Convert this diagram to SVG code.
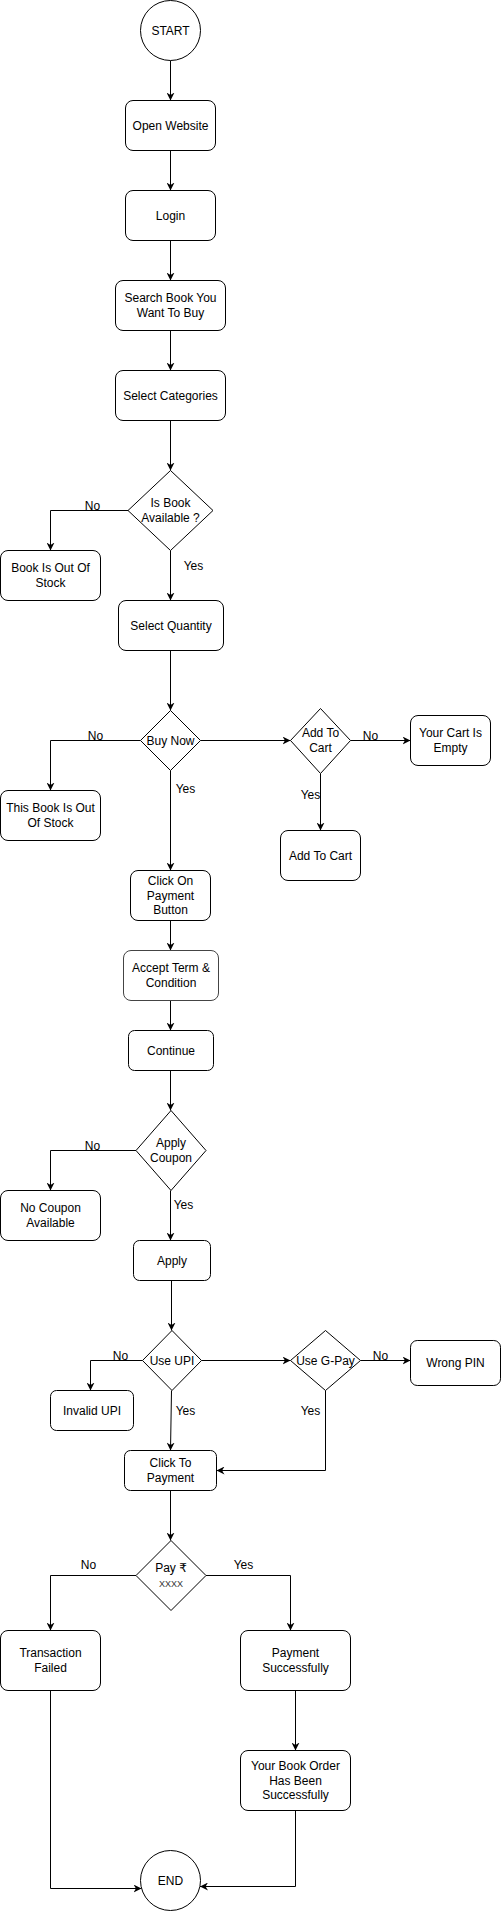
<svg xmlns="http://www.w3.org/2000/svg" width="501" height="1911" viewBox="0 0 501 1911">
<style>
.n{fill:#fff;stroke:#000;stroke-width:1}
.t{font-family:"Liberation Sans",Arial,"DejaVu Sans",sans-serif;font-size:12px;fill:#000;text-anchor:middle}
.s{font-size:9px;fill:#333}
.c{fill:none;stroke:#000;stroke-width:1;marker-end:url(#ah)}
.l{font-family:"Liberation Sans",Arial,sans-serif;font-size:12px;fill:#000;text-anchor:middle}
</style>
<defs>
<marker id="ah" viewBox="0 0 10 10" refX="10" refY="5" markerWidth="8" markerHeight="8" markerUnits="userSpaceOnUse" orient="auto">
<path d="M0,0 L10,5 L0,10 L3,5 z" fill="#000"/>
</marker>
</defs>
<rect width="501" height="1911" fill="#fff"/>
<g transform="translate(0.5,0.5)">
<g id="connectors">
<path class="c" d="M170,60 V100"/>
<path class="c" d="M170,150 V190"/>
<path class="c" d="M170,240 V280"/>
<path class="c" d="M170,330 V370"/>
<path class="c" d="M170,420 V470"/>
<path class="c" d="M127.5,510 H50 V550"/>
<path class="c" d="M170,550 V600"/>
<path class="c" d="M170,650 V710"/>
<path class="c" d="M140,740 H50 V790"/>
<path class="c" d="M200,740 H290"/>
<path class="c" d="M350,740 H410"/>
<path class="c" d="M320,773 V830"/>
<path class="c" d="M170,770 V870"/>
<path class="c" d="M170,920 V950"/>
<path class="c" d="M170,1000 V1030"/>
<path class="c" d="M170,1070 V1110"/>
<path class="c" d="M135.5,1150 H50 V1190"/>
<path class="c" d="M170,1190 V1240"/>
<path class="c" d="M171,1280 V1330"/>
<path class="c" d="M142,1360 H90 V1390"/>
<path class="c" d="M201,1360 H290"/>
<path class="c" d="M360,1360 H410"/>
<path class="c" d="M171,1390 L170,1450"/>
<path class="c" d="M325,1390 V1470 H216"/>
<path class="c" d="M170,1490 V1540"/>
<path class="c" d="M135.5,1575 H50 V1630"/>
<path class="c" d="M205.5,1575 H290 V1630"/>
<path class="c" d="M295,1690 V1750"/>
<path class="c" d="M50,1690 V1888 H141"/>
<path class="c" d="M295,1810 V1886 H199.5"/>
<text class="l" x="92" y="509">No</text>
<text class="l" x="193" y="569">Yes</text>
<text class="l" x="95" y="739">No</text>
<text class="l" x="370" y="739">No</text>
<text class="l" x="310" y="798">Yes</text>
<text class="l" x="185" y="792">Yes</text>
<text class="l" x="92" y="1149">No</text>
<text class="l" x="183" y="1208">Yes</text>
<text class="l" x="120" y="1359">No</text>
<text class="l" x="380" y="1359">No</text>
<text class="l" x="185" y="1414">Yes</text>
<text class="l" x="310" y="1414">Yes</text>
<text class="l" x="88" y="1568">No</text>
<text class="l" x="243" y="1568">Yes</text>
</g>
<g id="start"><circle class="n" cx="170" cy="30" r="30"/><text class="t" x="170" y="34">START</text></g>
<g id="open"><rect class="n" x="125" y="100" width="90" height="50" rx="7.5"/><text class="t" x="170" y="129">Open Website</text></g>
<g id="login"><rect class="n" x="125" y="190" width="90" height="50" rx="7.5"/><text class="t" x="170" y="219">Login</text></g>
<g id="search"><rect class="n" x="115" y="280" width="110" height="50" rx="7.5"/><text class="t" x="170" y="301.8">Search Book You</text><text class="t" x="170" y="316.2">Want To Buy</text></g>
<g id="categories"><rect class="n" x="115" y="370" width="110" height="50" rx="7.5"/><text class="t" x="170" y="399">Select Categories</text></g>
<g id="available"><path class="n" d="M170,470 L212.5,510 L170,550 L127.5,510 Z"/><text class="t" x="170" y="506.8">Is Book</text><text class="t" x="170" y="521.2">Available ?</text></g>
<g id="outofstock1"><rect class="n" x="0" y="550" width="100" height="50" rx="7.5"/><text class="t" x="50" y="571.8">Book Is Out Of</text><text class="t" x="50" y="586.2">Stock</text></g>
<g id="quantity"><rect class="n" x="118" y="600" width="105" height="50" rx="7.5"/><text class="t" x="170.5" y="629">Select Quantity</text></g>
<g id="buynow"><path class="n" d="M170,710 L200,740 L170,770 L140,740 Z"/><text class="t" x="170" y="744">Buy Now</text></g>
<g id="addcartq"><path class="n" d="M320,708 L350,740 L320,773 L290,740 Z"/><text class="t" x="320" y="736.8">Add To</text><text class="t" x="320" y="751.2">Cart</text></g>
<g id="cartempty"><rect class="n" x="410" y="715" width="80" height="50" rx="7.5"/><text class="t" x="450" y="736.8">Your Cart Is</text><text class="t" x="450" y="751.2">Empty</text></g>
<g id="outofstock2"><rect class="n" x="0" y="790" width="100" height="50" rx="7.5"/><text class="t" x="50" y="811.8">This Book Is Out</text><text class="t" x="50" y="826.2">Of Stock</text></g>
<g id="addtocart"><rect class="n" x="280" y="830" width="80" height="50" rx="7.5"/><text class="t" x="320" y="859">Add To Cart</text></g>
<g id="clickpayment"><rect class="n" x="130" y="870" width="80" height="50" rx="7.5"/><text class="t" x="170" y="884.6">Click On</text><text class="t" x="170" y="899">Payment</text><text class="t" x="170" y="913.4">Button</text></g>
<g id="accept"><rect class="n" x="123" y="950" width="95" height="50" rx="7.5" style="stroke:#444"/><text class="t" x="170.5" y="971.8">Accept Term &amp;</text><text class="t" x="170.5" y="986.2">Condition</text></g>
<g id="continue"><rect class="n" x="128" y="1030" width="85" height="40" rx="6"/><text class="t" x="170.5" y="1054">Continue</text></g>
<g id="coupon"><path class="n" d="M170.5,1110 L205.5,1150 L170.5,1190 L135.5,1150 Z"/><text class="t" x="170.5" y="1146.8">Apply</text><text class="t" x="170.5" y="1161.2">Coupon</text></g>
<g id="nocoupon"><rect class="n" x="0" y="1190" width="100" height="50" rx="7.5"/><text class="t" x="50" y="1211.8">No Coupon</text><text class="t" x="50" y="1226.2">Available</text></g>
<g id="apply"><rect class="n" x="133" y="1240" width="77" height="40" rx="6"/><text class="t" x="171.5" y="1264">Apply</text></g>
<g id="useupi"><path class="n" d="M171.5,1330 L201,1360 L171.5,1390 L142,1360 Z"/><text class="t" x="171.5" y="1364">Use UPI</text></g>
<g id="invalidupi"><rect class="n" x="50" y="1390" width="83" height="40" rx="6"/><text class="t" x="91.5" y="1414">Invalid UPI</text></g>
<g id="usegpay"><path class="n" d="M325,1330 L360,1360 L325,1390 L290,1360 Z"/><text class="t" x="325" y="1364">Use G-Pay</text></g>
<g id="wrongpin"><rect class="n" x="410" y="1340" width="90" height="45" rx="6.75"/><text class="t" x="455" y="1366.5">Wrong PIN</text></g>
<g id="clicktopay"><rect class="n" x="124" y="1450" width="92" height="40" rx="6"/><text class="t" x="170" y="1466.8">Click To</text><text class="t" x="170" y="1481.2">Payment</text></g>
<g id="pay"><path class="n" d="M170.5,1540 L205.5,1575 L170.5,1610 L135.5,1575 Z"/><text class="t" x="170.5" y="1571.7">Pay ₹</text><text class="t s" x="170.5" y="1586.5">XXXX</text></g>
<g id="txfailed"><rect class="n" x="0" y="1630" width="100" height="60" rx="7.5"/><text class="t" x="50" y="1656.8">Transaction</text><text class="t" x="50" y="1671.2">Failed</text></g>
<g id="paysuccess"><rect class="n" x="240" y="1630" width="110" height="60" rx="7.5"/><text class="t" x="295" y="1656.8">Payment</text><text class="t" x="295" y="1671.2">Successfully</text></g>
<g id="order"><rect class="n" x="240" y="1750" width="110" height="60" rx="7.5"/><text class="t" x="295" y="1769.6">Your Book Order</text><text class="t" x="295" y="1784">Has Been</text><text class="t" x="295" y="1798.4">Successfully</text></g>
<g id="end"><circle class="n" cx="170" cy="1880" r="30"/><text class="t" x="170" y="1884">END</text></g>
</g>
</svg>
